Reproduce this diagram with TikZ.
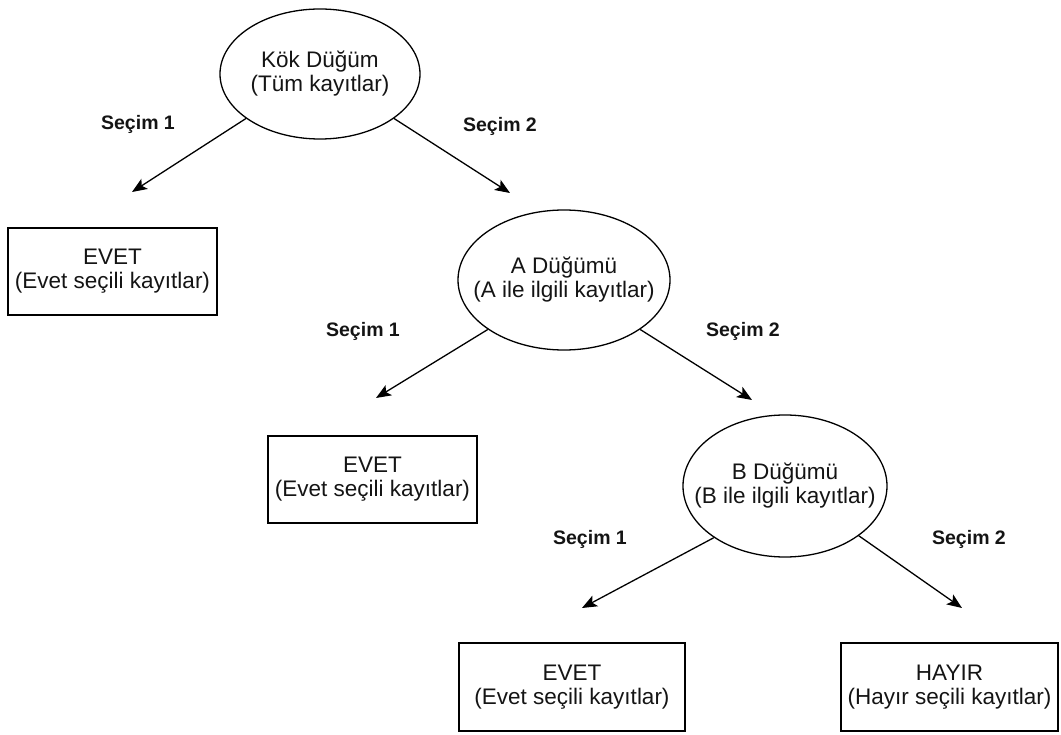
\documentclass[tikz,border=0pt]{standalone}
\usepackage{fontspec}
\setmainfont{Liberation Sans}
\usetikzlibrary{shapes.geometric,arrows.meta}
\begin{document}
\begin{tikzpicture}[x=1pt,y=-1pt,
  txt/.style={font=\fontsize{22.5}{24}\selectfont, align=center, text=black!92},
  % negative inner sep lets the minimum size alone set the ellipse
  oval/.style={ellipse, draw, line width=1.3pt, inner sep=-40pt, txt},
  leaf/.style={rectangle, draw, line width=1.3pt, inner sep=0pt, txt},
  choice/.style={font=\bfseries\fontsize{19.5}{22}\selectfont, text=black!92},
  link/.style={line width=1.3pt, -{Stealth[length=15pt,width=12pt,inset=3.5pt]}}
]
\useasboundingbox (0,0) rectangle (1061,735);

% decision nodes
\node[oval, minimum width=200pt, minimum height=130pt] (root) at (320,74) {Kök Düğüm\\(Tüm kayıtlar)};
\node[oval, minimum width=212pt, minimum height=140pt] (nodeA) at (564,280) {A Düğümü\\(A ile ilgili kayıtlar)};
\node[oval, minimum width=204pt, minimum height=142pt] (nodeB) at (785,486) {B Düğümü\\(B ile ilgili kayıtlar)};

% leaf boxes
\node[leaf, minimum width=209pt, minimum height=87pt] (leaf1) at (112.5,271.5) {EVET\\(Evet seçili kayıtlar)};
\node[leaf, minimum width=209pt, minimum height=87pt] (leaf2) at (372.5,479.5) {EVET\\(Evet seçili kayıtlar)};
\node[leaf, minimum width=226pt, minimum height=88pt] (leaf3) at (572,687) {EVET\\(Evet seçili kayıtlar)};
\node[leaf, minimum width=217pt, minimum height=88pt] (leaf4) at (949.5,687) {HAYIR\\(Hayır seçili kayıtlar)};

% free arrow ends
\coordinate (r1) at (132,192);
\coordinate (r2) at (510,193);
\coordinate (a1) at (376,398);
\coordinate (a2) at (752,400);
\coordinate (b1) at (582,608);
\coordinate (b2) at (962,608);

% connectors
\draw[link] (root.211) -- (r1);
\draw[link] (root.329) -- (r2);
\draw[link] (nodeA.213) -- (a1);
\draw[link] (nodeA.327) -- (a2);
\draw[link] (nodeB.216) -- (b1);
\draw[link] (nodeB.326) -- (b2);

% branch labels
\node[choice] (l1) at (138,124) {Seçim 1};
\node[choice] (l2) at (500,126) {Seçim 2};
\node[choice] (l3) at (363,331) {Seçim 1};
\node[choice] (l4) at (743,331) {Seçim 2};
\node[choice] (l5) at (590,539) {Seçim 1};
\node[choice] (l6) at (969,539) {Seçim 2};
\end{tikzpicture}
\end{document}
